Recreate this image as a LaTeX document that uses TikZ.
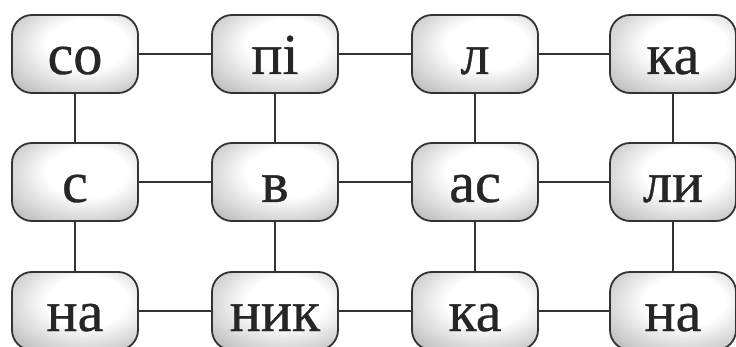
\documentclass[tikz,border=0pt]{standalone}
\usepackage{fontspec}
\setmainfont{Liberation Serif}
\newfontfamily\sylfont[FakeBold=0.6]{Liberation Serif}
\pgfdeclareradialshading{boxshade}{\pgfpoint{6bp}{8bp}}{%
  color(0bp)=(white); color(16bp)=(white); color(36bp)=(black!25); color(50bp)=(black!50); color(72bp)=(black!62)}
\tikzset{
  syl/.style={draw=black!80, line width=1.8pt, rounded corners=20pt,
    minimum width=126pt, minimum height=78pt, inner sep=0pt,
    shading=boxshade, text height=40pt, text depth=0pt,
    font=\sylfont\fontsize{58}{60}\selectfont, text=black!85},
  link/.style={draw=black!80, line width=1.4pt}
}
\begin{document}
\begin{tikzpicture}[x=1pt,y=-1pt]
\clip (0,0) rectangle (736,347);
\fill[white] (0,0) rectangle (736,347);
\node[syl] (a1) at (75,54) {со};
\node[syl] (a2) at (275,54) {пі};
\node[syl] (a3) at (475,54) {л};
\node[syl] (a4) at (673,54) {ка};
\node[syl] (b1) at (75,182) {с};
\node[syl] (b2) at (275,182) {в};
\node[syl] (b3) at (475,182) {ас};
\node[syl] (b4) at (673,182) {ли};
\node[syl] (c1) at (75,311) {на};
\node[syl] (c2) at (275,311) {ник};
\node[syl] (c3) at (475,311) {ка};
\node[syl] (c4) at (673,311) {на};
\foreach \r in {a,b,c}{
  \draw[link] (\r1) -- (\r2);
  \draw[link] (\r2) -- (\r3);
  \draw[link] (\r3) -- (\r4);
}
\foreach \c in {1,2,3,4}{
  \draw[link] (a\c) -- (b\c);
  \draw[link] (b\c) -- (c\c);
}
\end{tikzpicture}
\end{document}
